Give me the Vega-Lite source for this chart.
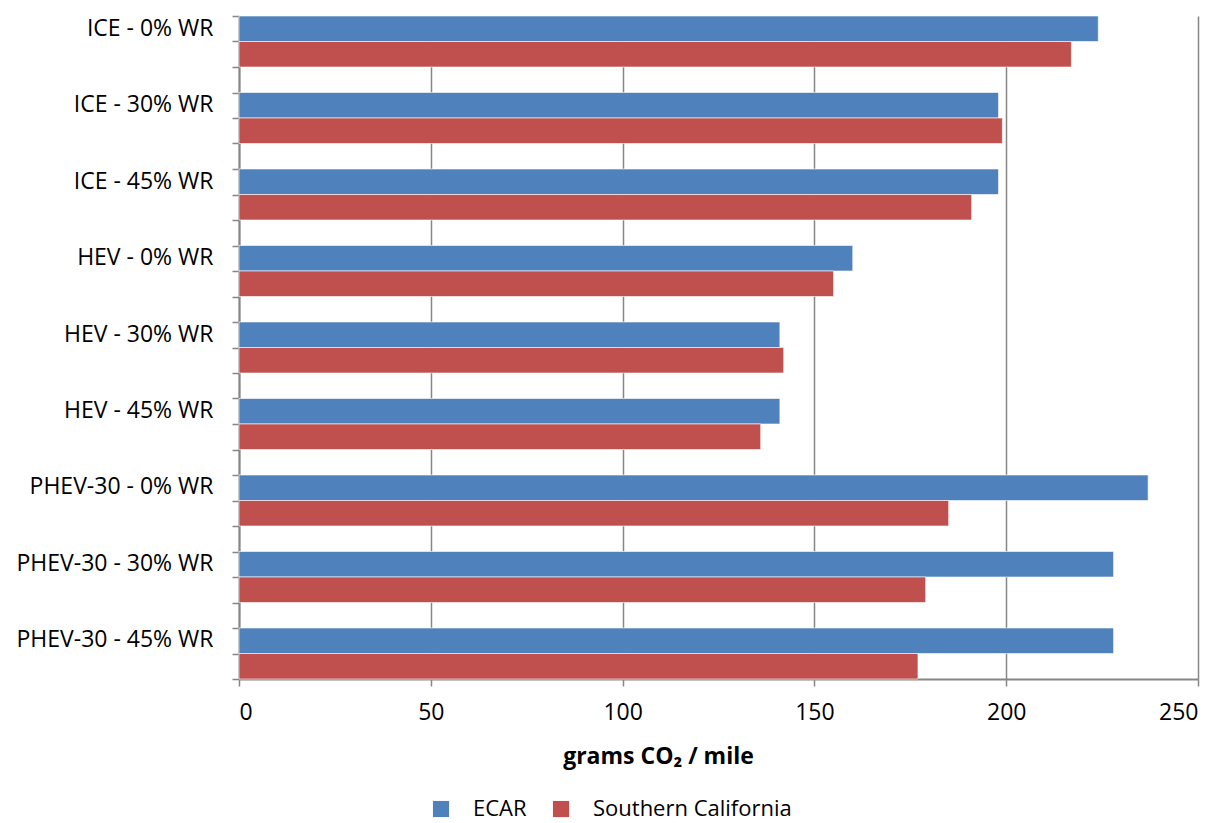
{
  "$schema": "https://vega.github.io/schema/vega-lite/v6.json",
  "width": 959,
  "height": 663,
  "autosize": {"type": "none"},
  "padding": {"left": 239, "top": 16, "right": 24, "bottom": 144},
  "background": "white",
  "config": {
    "font": "Open Sans",
    "view": {"stroke": null},
    "axis": {"labelFont": "Open Sans", "titleFont": "Open Sans"},
    "legend": {"labelFont": "Open Sans"}
  },
  "data": {
    "values": [
      {"vehicle": "ICE - 0% WR", "region": "ECAR", "value": 224},
      {"vehicle": "ICE - 0% WR", "region": "Southern California", "value": 217},
      {"vehicle": "ICE - 30% WR", "region": "ECAR", "value": 198},
      {"vehicle": "ICE - 30% WR", "region": "Southern California", "value": 199},
      {"vehicle": "ICE - 45% WR", "region": "ECAR", "value": 198},
      {"vehicle": "ICE - 45% WR", "region": "Southern California", "value": 191},
      {"vehicle": "HEV - 0% WR", "region": "ECAR", "value": 160},
      {"vehicle": "HEV - 0% WR", "region": "Southern California", "value": 155},
      {"vehicle": "HEV - 30% WR", "region": "ECAR", "value": 141},
      {"vehicle": "HEV - 30% WR", "region": "Southern California", "value": 142},
      {"vehicle": "HEV - 45% WR", "region": "ECAR", "value": 141},
      {"vehicle": "HEV - 45% WR", "region": "Southern California", "value": 136},
      {"vehicle": "PHEV-30 - 0% WR", "region": "ECAR", "value": 237},
      {"vehicle": "PHEV-30 - 0% WR", "region": "Southern California", "value": 185},
      {"vehicle": "PHEV-30 - 30% WR", "region": "ECAR", "value": 228},
      {"vehicle": "PHEV-30 - 30% WR", "region": "Southern California", "value": 179},
      {"vehicle": "PHEV-30 - 45% WR", "region": "ECAR", "value": 228},
      {"vehicle": "PHEV-30 - 45% WR", "region": "Southern California", "value": 177}
    ]
  },
  "layer": [
    {
      "mark": {"type": "bar", "stroke": "#ffffff", "strokeWidth": 1, "strokeOpacity": 0.6},
      "encoding": {
        "y": {
          "field": "vehicle",
          "type": "nominal",
          "sort": null,
          "scale": {"paddingInner": 0.3333, "paddingOuter": 0},
          "axis": {
            "title": null,
            "domain": false,
            "ticks": false,
            "tickSize": 0,
            "labelFontSize": 23,
            "labelColor": "#000000",
            "labelPadding": 26,
            "labelOffset": -13,
            "labelLimit": 400
          }
        },
        "yOffset": {
          "field": "region",
          "type": "nominal",
          "sort": ["ECAR", "Southern California"],
          "scale": {"paddingInner": 0, "paddingOuter": 0}
        },
        "x": {
          "field": "value",
          "type": "quantitative",
          "scale": {"domain": [0, 250], "nice": false},
          "axis": {
            "values": [0, 50, 100, 150, 200, 250],
            "title": "grams  CO₂ / mile",
            "titleFontSize": 23,
            "titleFontWeight": "bold",
            "titleColor": "#000000",
            "titleX": 419,
            "titleY": 84,
            "titleAlign": "center",
            "titleBaseline": "alphabetic",
            "labelFontSize": 23,
            "labelColor": "#000000",
            "labelPadding": 15,
            "tickSize": 7,
            "tickColor": "#868686",
            "tickWidth": 1.5,
            "domainColor": "#868686",
            "domainWidth": 2,
            "grid": true,
            "gridColor": "#868686",
            "gridWidth": 1.5
          }
        },
        "color": {
          "field": "region",
          "type": "nominal",
          "scale": {"domain": ["ECAR", "Southern California"], "range": ["#4F81BD", "#C0504D"]},
          "legend": {
            "title": null,
            "orient": "none",
            "direction": "horizontal",
            "legendX": 191,
            "legendY": 782,
            "symbolType": "square",
            "symbolSize": 260,
            "symbolStrokeWidth": 0,
            "labelFontSize": 22,
            "labelColor": "#000000",
            "labelOffset": 21,
            "labelLimit": 400,
            "columnPadding": 23
          }
        }
      }
    },
    {
      "mark": {"type": "point", "opacity": 0},
      "encoding": {
        "x": {"field": "value", "type": "quantitative"},
        "y": {
          "datum": 0,
          "type": "quantitative",
          "scale": {"domain": [0, 26], "nice": false, "zero": false},
          "axis": {
            "orient": "left",
            "title": null,
            "values": [0,1,2,3,4,5,6,7,8,9,10,11,12,13,14,15,16,17,18,19,20,21,22,23,24,25,26],
            "labels": false,
            "grid": false,
            "tickSize": 7,
            "tickColor": "#868686",
            "tickWidth": 1.5,
            "domainColor": "#868686",
            "domainWidth": 2
          }
        }
      }
    }
  ],
  "resolve": {"scale": {"y": "independent"}, "axis": {"y": "independent"}}
}
